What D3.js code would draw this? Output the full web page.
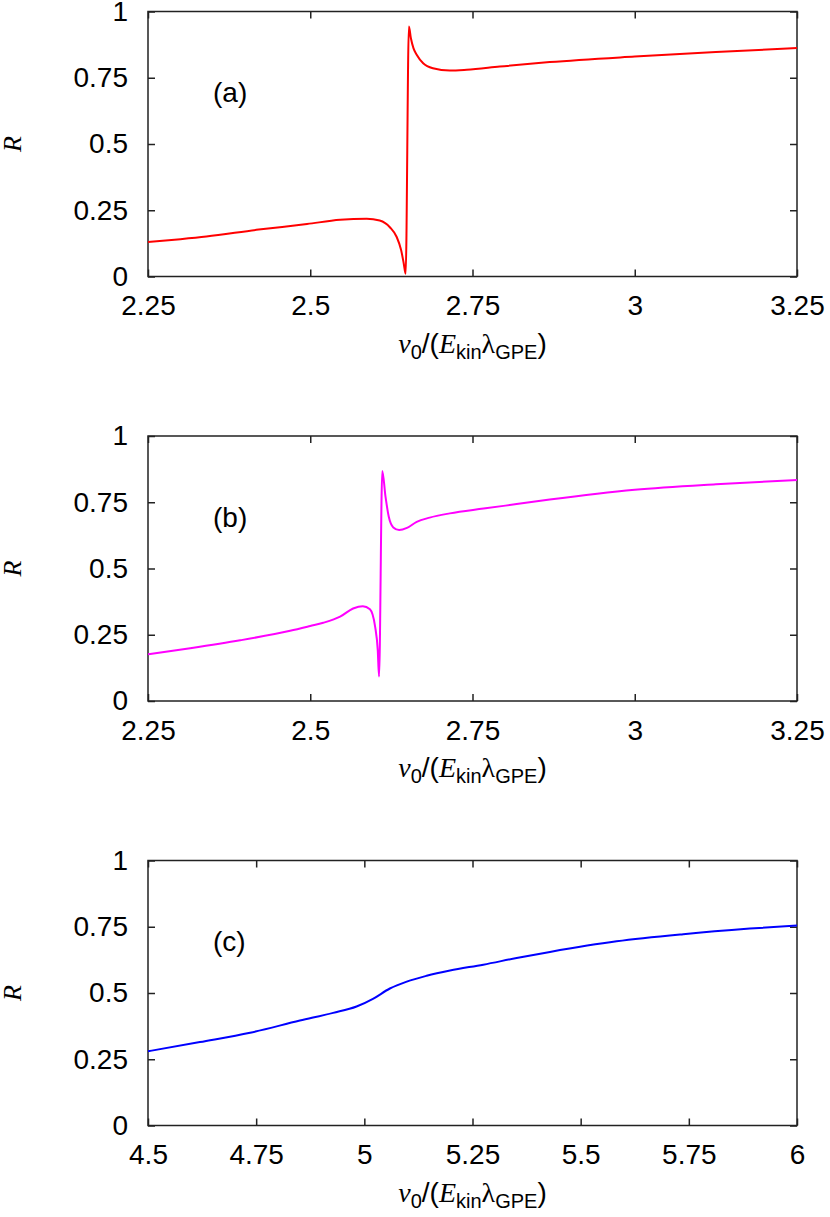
<!DOCTYPE html>
<html>
<head>
<meta charset="utf-8">
<script src="https://cdn.jsdelivr.net/npm/d3@7"></script>
<style>
	html, body { margin: 0; padding: 0; background: #fff; }
	svg { display: block; }
</style>
</head>
<body>
<script>
	'use strict';

	// DATA //

	// Panel (a):
	var vA = [ 2.25, 2.30, 2.34, 2.417, 2.495, 2.546, 2.587, 2.607, 2.623, 2.633, 2.640, 2.644, 2.647, 2.652, 2.655, 2.659, 2.664, 2.674, 2.689, 2.715, 2.741, 2.792, 2.869, 3.0, 3.125, 3.25 ],
		rA = [ 0.130, 0.141, 0.151, 0.176, 0.198, 0.214, 0.218, 0.211, 0.185, 0.150, 0.100, 0.050, 0.010, 0.943, 0.900, 0.862, 0.837, 0.805, 0.786, 0.777, 0.780, 0.792, 0.809, 0.830, 0.847, 0.862 ];

	// Panel (b):
	var vB = [ 2.25, 2.315, 2.392, 2.469, 2.50, 2.520, 2.546, 2.566, 2.581, 2.592, 2.600, 2.604, 2.606, 2.611, 2.616, 2.621, 2.628, 2.637, 2.649, 2.664, 2.684, 2.715, 2.767, 2.818, 2.869, 3.0, 3.125, 3.25 ],
		rB = [ 0.176, 0.199, 0.229, 0.265, 0.283, 0.295, 0.318, 0.349, 0.358, 0.346, 0.280, 0.192, 0.092, 0.868, 0.770, 0.695, 0.655, 0.645, 0.653, 0.676, 0.692, 0.708, 0.726, 0.743, 0.760, 0.797, 0.818, 0.834 ];

	// Panel (c):
	var vC = [ 4.5, 4.62, 4.736, 4.851, 4.928, 4.982, 5.021, 5.059, 5.098, 5.144, 5.198, 5.275, 5.352, 5.429, 5.583, 5.737, 5.891, 6.0 ],
		rC = [ 0.280, 0.315, 0.350, 0.396, 0.425, 0.449, 0.479, 0.517, 0.543, 0.565, 0.585, 0.607, 0.632, 0.655, 0.695, 0.722, 0.743, 0.755 ];

	// Ticks:
	var xTicksAB = [ 2.25, 2.5, 2.75, 3, 3.25 ],
		xLabelsAB = [ '2.25', '2.5', '2.75', '3', '3.25' ],
		xTicksC = [ 4.5, 4.75, 5, 5.25, 5.5, 5.75, 6 ],
		xLabelsC = [ '4.5', '4.75', '5', '5.25', '5.5', '5.75', '6' ],
		yTicks = [ 0, 0.25, 0.5, 0.75, 1 ],
		yLabels = [ '0', '0.25', '0.5', '0.75', '1' ];

	var panels = [
		{ tag: '(a)', v: vA, r: rA, xd: [ 2.25, 3.25 ], xt: xTicksAB, xl: xLabelsAB, color: '#ff0000' },
		{ tag: '(b)', v: vB, r: rB, xd: [ 2.25, 3.25 ], xt: xTicksAB, xl: xLabelsAB, color: '#ff00ff' },
		{ tag: '(c)', v: vC, r: rC, xd: [ 4.5, 6 ], xt: xTicksC, xl: xLabelsC, color: '#0000ff' }
	];

	// VARIABLES //

	var WIDTH = 830,
		HEIGHT = 1217,
		LEFT = 148,
		RIGHT = 797,
		TOPS = [ 11.5, 436, 860.5 ],
		PH = 265,
		TICK = 7,
		SANS = '"Liberation Sans", Arial, Helvetica, sans-serif',
		SERIF = '"Liberation Serif", "Times New Roman", serif',
		FS = 28;

	var svg = d3.select( 'body' ).append( 'svg' )
		.attr( 'width', WIDTH )
		.attr( 'height', HEIGHT )
		.attr( 'viewBox', '0 0 ' + WIDTH + ' ' + HEIGHT );

	panels.forEach( function ( p, i ) {
		var top = TOPS[ i ],
			x, y, g, line, lab;

		x = d3.scaleLinear().domain( p.xd ).range( [ LEFT, RIGHT ] );
		y = d3.scaleLinear().domain( [ 0, 1 ] ).range( [ top + PH, top ] );

		g = svg.append( 'g' ).attr( 'class', 'panel' );

		// Bottom axis with labels:
		g.append( 'g' )
			.attr( 'transform', 'translate(0,' + ( top + PH ) + ')' )
			.call( d3.axisBottom( x ).tickValues( p.xt )
				.tickFormat( function ( d, j ) { return p.xl[ j ]; } )
				.tickSizeInner( -TICK ).tickSizeOuter( 0 ).tickPadding( 19 ) )
			.call( styleAxis );

		// Top axis (mirror ticks):
		g.append( 'g' )
			.attr( 'transform', 'translate(0,' + top + ')' )
			.call( d3.axisTop( x ).tickValues( p.xt ).tickFormat( '' )
				.tickSizeInner( -TICK ).tickSizeOuter( 0 ) )
			.call( styleAxis );

		// Left axis with labels:
		g.append( 'g' )
			.attr( 'transform', 'translate(' + LEFT + ',0)' )
			.call( d3.axisLeft( y ).tickValues( yTicks )
				.tickFormat( function ( d, j ) { return yLabels[ j ]; } )
				.tickSizeInner( -TICK ).tickSizeOuter( 0 ).tickPadding( 20 ) )
			.call( styleAxis );

		// Right axis (mirror ticks):
		g.append( 'g' )
			.attr( 'transform', 'translate(' + RIGHT + ',0)' )
			.call( d3.axisRight( y ).tickValues( yTicks ).tickFormat( '' )
				.tickSizeInner( -TICK ).tickSizeOuter( 0 ) )
			.call( styleAxis );

		// Frame:
		g.append( 'rect' )
			.attr( 'x', LEFT )
			.attr( 'y', top )
			.attr( 'width', RIGHT - LEFT )
			.attr( 'height', PH )
			.attr( 'fill', 'none' )
			.attr( 'stroke', '#222' )
			.attr( 'stroke-width', 1.5 );

		// Curve:
		line = d3.line()
			.x( function ( d ) { return x( d[ 0 ] ); } )
			.y( function ( d ) { return y( d[ 1 ] ); } )
			.curve( d3.curveMonotoneX );

		g.append( 'path' )
			.datum( d3.zip( p.v, p.r ) )
			.attr( 'd', line )
			.attr( 'fill', 'none' )
			.attr( 'stroke', p.color )
			.attr( 'stroke-width', 2 )
			.attr( 'stroke-linejoin', 'round' );

		// Panel tag:
		g.append( 'text' )
			.attr( 'x', 213 )
			.attr( 'y', top + 90.5 )
			.attr( 'font-family', SANS )
			.attr( 'font-size', FS )
			.attr( 'fill', '#000' )
			.text( p.tag );

		// Y label:
		g.append( 'text' )
			.attr( 'transform', 'translate(21,' + ( top + PH / 2 ) + ') rotate(-90)' )
			.attr( 'text-anchor', 'middle' )
			.attr( 'font-family', SERIF )
			.attr( 'font-style', 'italic' )
			.attr( 'font-size', 26 )
			.text( 'R' );

		// X label:
		lab = g.append( 'text' )
			.attr( 'x', ( LEFT + RIGHT ) / 2 )
			.attr( 'y', top + PH + 76 )
			.attr( 'text-anchor', 'middle' )
			.attr( 'font-size', FS )
			.attr( 'fill', '#000' );
		lab.append( 'tspan' ).attr( 'font-family', SERIF ).attr( 'font-style', 'italic' ).text( 'v' );
		lab.append( 'tspan' ).attr( 'font-family', SANS ).attr( 'font-size', 20 ).attr( 'dy', 6 ).text( '0' );
		lab.append( 'tspan' ).attr( 'font-family', SANS ).attr( 'dy', -6 ).text( '/(' );
		lab.append( 'tspan' ).attr( 'font-family', SERIF ).attr( 'font-style', 'italic' ).text( 'E' );
		lab.append( 'tspan' ).attr( 'font-family', SANS ).attr( 'font-size', 20 ).attr( 'dy', 6 ).text( 'kin' );
		lab.append( 'tspan' ).attr( 'font-family', SERIF ).attr( 'dy', -6 ).text( 'λ' );
		lab.append( 'tspan' ).attr( 'font-family', SANS ).attr( 'font-size', 20 ).attr( 'dy', 6 ).text( 'GPE' );
		lab.append( 'tspan' ).attr( 'font-family', SANS ).attr( 'dy', -6 ).text( ')' );
	});

	function styleAxis( sel ) {
		sel.select( '.domain' ).remove();
		sel.selectAll( '.tick line' )
			.attr( 'stroke', '#222' )
			.attr( 'stroke-width', 1.5 );
		sel.selectAll( '.tick text' )
			.attr( 'font-family', SANS )
			.attr( 'font-size', FS )
			.attr( 'fill', '#000' );
	}
</script>
</body>
</html>
